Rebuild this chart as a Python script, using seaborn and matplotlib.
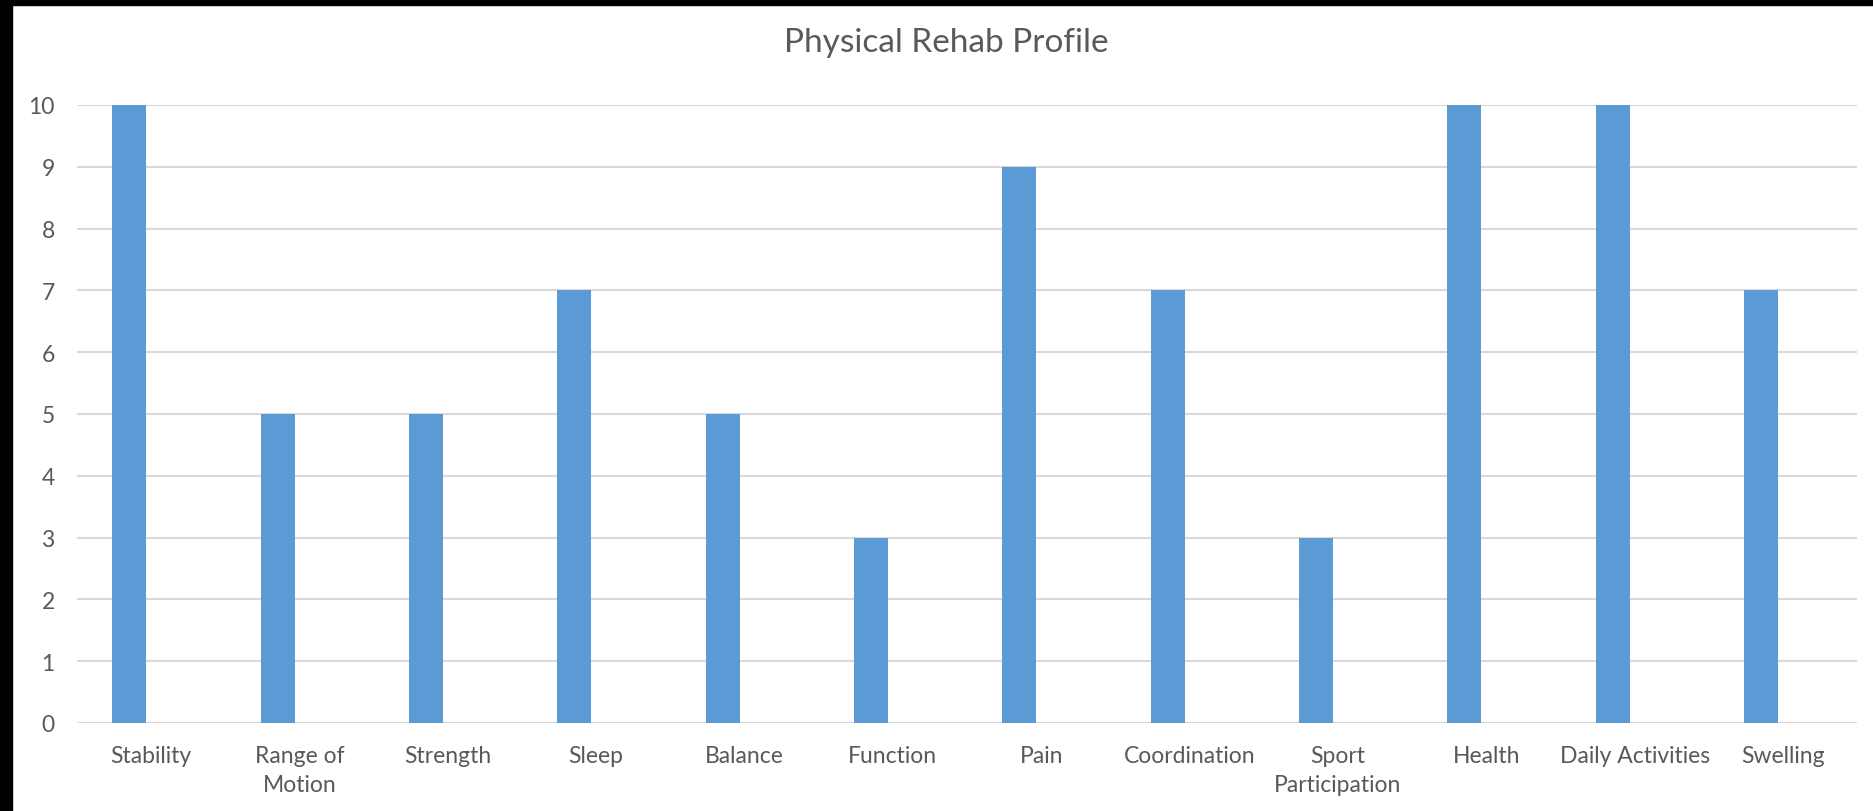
import matplotlib
matplotlib.use('Agg')
import matplotlib.pyplot as plt
import seaborn as sns
from matplotlib.patches import Rectangle

categories = ['Stability', 'Range of\nMotion', 'Strength', 'Sleep', 'Balance', 'Function',
              'Pain', 'Coordination', 'Sport\nParticipation', 'Health', 'Daily Activities', 'Swelling']
scores = [10, 5, 5, 7, 5, 3, 9, 7, 3, 10, 10, 7]
y_ticks = list(range(0, 11))

bar_blue = '#5B9BD5'
text_grey = '#595959'
grid_grey = '#D9D9D9'

sns.set_style('white')
plt.rcParams['font.family'] = ['Lato', 'DejaVu Sans']

fig = plt.figure(figsize=(18.73, 8.12), dpi=100)
ax = fig.add_axes([0.0411, 0.1084, 0.9504, 0.7611])

sns.barplot(x=categories, y=scores, color=bar_blue, width=0.23, saturation=1, ax=ax)

# Excel-style clustered column: the bar sits left of the category centre
for p in ax.patches:
    p.set_x(p.get_x() - 0.147)
    p.set_edgecolor('none')

ax.set_xlim(-0.5, len(categories) - 0.5)
ax.set_ylim(0, 10)
ax.set_yticks(y_ticks)
ax.yaxis.grid(True, color=grid_grey, linewidth=1.5)
ax.set_axisbelow(True)
for s in ax.spines.values():
    s.set_visible(False)
ax.axhline(0, color=grid_grey, linewidth=1.5, zorder=0)
ax.tick_params(axis='y', length=0, pad=16, labelsize=16.5, labelcolor=text_grey)
ax.tick_params(axis='x', length=0, pad=16, labelsize=16.5, labelcolor=text_grey)
for lbl in ax.get_xticklabels():
    lbl.set_linespacing(1.45)
ax.set_xlabel('')
ax.set_ylabel('')

fig.suptitle('Physical Rehab Profile', x=0.505, y=0.965, fontsize=24, color=text_grey)

# black frame strips visible at top and left of the reference screenshot
fig.patches.append(Rectangle((0, 1 - 6 / 812), 1, 6 / 812, transform=fig.transFigure,
                             color='black', zorder=10))
fig.patches.append(Rectangle((0, 0), 12 / 1873, 1, transform=fig.transFigure,
                             color='black', zorder=10))

fig.savefig('out.png', dpi=100)
